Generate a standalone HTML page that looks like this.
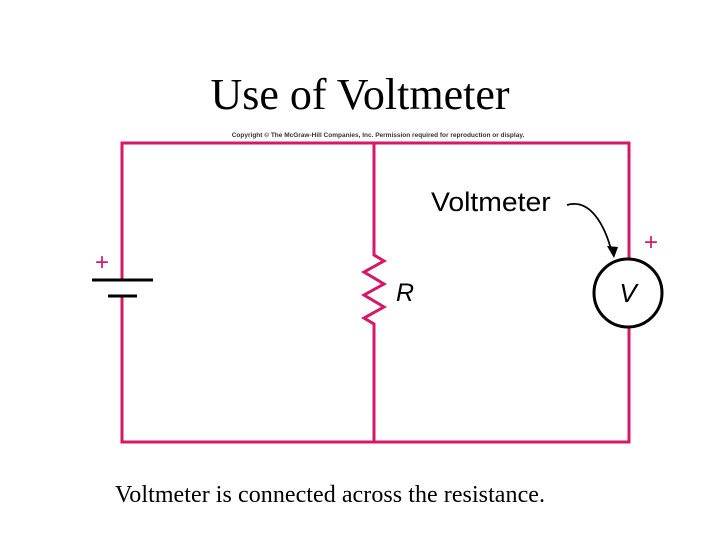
<!DOCTYPE html>
<html><head><style>
body{margin:0;background:#fff;width:720px;height:540px;overflow:hidden}
</style></head><body>
<svg width="720" height="540" xmlns="http://www.w3.org/2000/svg">
<text x="360" y="109" text-anchor="middle" font-family="Liberation Serif" font-size="44">Use of Voltmeter</text>
<text x="378" y="137" text-anchor="middle" font-family="Liberation Sans" font-size="6.5" font-weight="bold" fill="#333">Copyright © The McGraw-Hill Companies, Inc. Permission required for reproduction or display.</text>
<g stroke="#d6176a" stroke-width="3" fill="none">
<polyline points="122,280 122,143 629,143 629,259"/>
<polyline points="122,296 122,442 629,442 629,327"/>
<polyline points="374,143 374,255 384,261 364,272 384,284 364,295 384,307 364,318 374,324 374,442"/>
</g>
<line x1="92" y1="280" x2="153" y2="280" stroke="#000" stroke-width="3"/>
<line x1="108" y1="296" x2="137" y2="296" stroke="#000" stroke-width="3"/>
<text x="102" y="270" text-anchor="middle" font-family="Liberation Sans" font-size="24" fill="#d6176a">+</text>
<text x="651" y="250" text-anchor="middle" font-family="Liberation Sans" font-size="24" fill="#d6176a">+</text>
<circle cx="628" cy="293" r="34" fill="#fff" stroke="#000" stroke-width="3"/>
<text x="628" y="302" text-anchor="middle" font-family="Liberation Sans" font-style="italic" font-size="26">V</text>
<text x="396" y="301" font-family="Liberation Sans" font-style="italic" font-size="25">R</text>
<text x="431" y="211" font-family="Liberation Sans" font-size="27" transform="translate(431,211) scale(1.05,1) translate(-431,-211)">Voltmeter</text>
<path d="M567,205 C590,198 605,225 612,253" stroke="#000" stroke-width="1.8" fill="none"/>
<polygon points="607,246 618,247 614,258" fill="#000"/>
<text x="115" y="502" font-family="Liberation Serif" font-size="24" textLength="430">Voltmeter is connected across the resistance.</text>
</svg>
</body></html>
